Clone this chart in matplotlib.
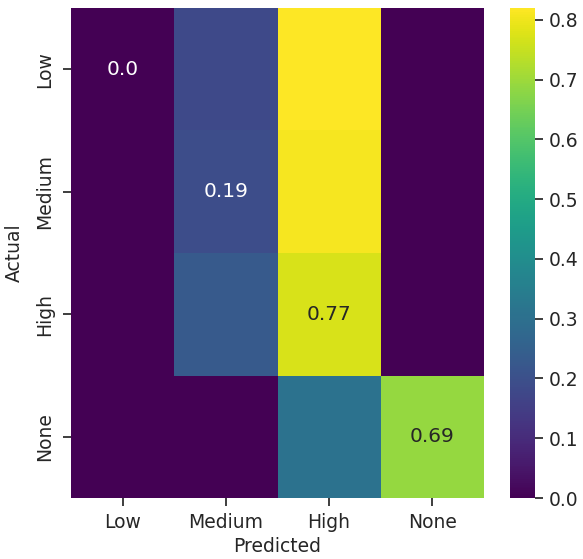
import numpy as np
import matplotlib
matplotlib.use("Agg")
import matplotlib.pyplot as plt
import seaborn as sns

categories = ["Low", "Medium", "High", "None"]
row_low = [0.0, 0.18, 0.82, 0.0]
row_medium = [0.0, 0.19, 0.81, 0.0]
row_high = [0.0, 0.23, 0.77, 0.0]
row_none = [0.0, 0.0, 0.31, 0.69]
diag_labels = ["0.0", "0.19", "0.77", "0.69"]

sns.set_theme(style="ticks")
plt.rcParams['font.family'] = ['DejaVu Sans']

data = np.array([row_low, row_medium, row_high, row_none])
annot = np.full(data.shape, "", dtype=object)
for i, lab in enumerate(diag_labels):
    annot[i, i] = lab

fig = plt.figure(figsize=(5.83, 5.59), dpi=100)
ax = fig.add_axes([0.122, 0.109, 0.708, 0.877])
cax = fig.add_axes([0.875, 0.109, 0.043, 0.877])
sns.heatmap(data, annot=annot, fmt="", cmap="viridis", ax=ax, cbar_ax=cax,
            xticklabels=categories, yticklabels=categories,
            annot_kws={"fontsize": 14.5})
ax.set_xlabel("Predicted", fontsize=13.5, labelpad=3)
ax.set_ylabel("Actual", fontsize=13.5, labelpad=8)
ax.tick_params(labelsize=13.5)
ax.tick_params(axis="x", pad=5)
ax.tick_params(axis="y", pad=6)
plt.setp(ax.get_yticklabels(), rotation=90, va="center")
cax.tick_params(labelsize=13.5)
cax.set_yticks([0, 0.1, 0.2, 0.3, 0.4, 0.5, 0.6, 0.7, 0.8])
fig.savefig("out.png", dpi=100)
